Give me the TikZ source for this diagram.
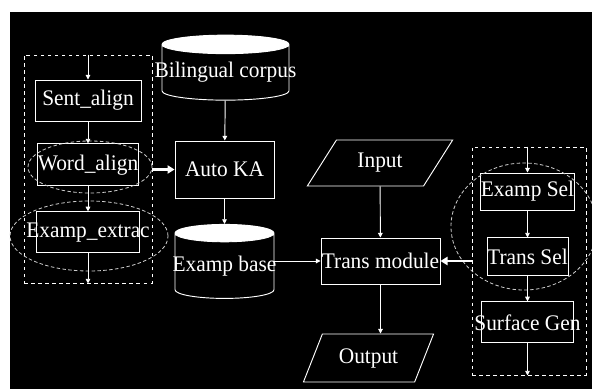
\documentclass[tikz,border=0pt]{standalone}
\usepackage{fontspec}
\setmainfont[FakeStretch=0.96]{Liberation Serif}
\usepackage{tikz}
\usetikzlibrary{arrows.meta,positioning,shapes.geometric}

\begin{document}
\begin{tikzpicture}[
  x=0.03cm, y=-0.03cm,
  >=Stealth,
  every node/.style={font=\fontsize{19}{21}\selectfont, text=white},
  box/.style={rectangle, draw=white, line width=0.8pt, inner sep=0pt,
    minimum width=3.06cm, minimum height=1.23cm},
  selbox/.style={box, minimum width=2.43cm, minimum height=1.14cm},
  dbase/.style={cylinder, shape border rotate=90, draw=white, line width=0.8pt,
    cylinder uses custom fill, cylinder body fill=black, cylinder end fill=white,
    inner sep=0pt},
  io/.style={trapezium, draw=white, line width=0.8pt, trapezium stretches=true,
    inner sep=0pt},
  grp/.style={rectangle, draw=white, line width=0.8pt, dashed},
  ring/.style={ellipse, draw=white!80!black, line width=0.7pt,
    dash pattern=on 3pt off 2pt},
  arr/.style={-{Triangle[length=4pt,width=4pt]}, white, line width=0.8pt},
  fatarr/.style={-{Triangle[length=6pt,width=7pt]}, white, line width=2pt},
]

% background
\useasboundingbox (0,0) rectangle (592,389);
\fill[black] (10,12) rectangle (592,389);

% Left group (alignment)
\node[grp, minimum width=3.84cm, minimum height=6.84cm] (leftgrp) at (88,169) {};
\node[box, minimum width=3.18cm] (sentalign) at (88,100.5) {Sent\_align};
\node[box, minimum width=3.03cm, minimum height=1.26cm, below=0.66cm of sentalign] (wordalign) {Word\_align};
\node[box, inner xsep=-9pt, below=0.75cm of wordalign] (examextrac) {Examp\_extrac};
\node[ring, minimum width=3.72cm, minimum height=1.56cm] (wordring) at (90,167) {};
\node[ring, minimum width=4.74cm, minimum height=2.1cm] (extracring) at (89,236) {};

% Middle column
\node[dbase, aspect=0.15, minimum width=3.81cm, minimum height=1.95cm] (corpus) at (225.5,72.5) {\makebox[3.7cm]{Bilingual corpus}};
\node[box, minimum width=2.97cm, minimum height=1.71cm] (autoka) at (224.5,169.5) {Auto KA};
\node[dbase, aspect=0.18, minimum width=2.97cm, minimum height=2.22cm] (expbase) at (224.5,266) {\makebox[2.9cm]{Examp base}};

% Translation
\node[io, trapezium left angle=52, trapezium right angle=128,
  minimum width=4.38cm, minimum height=1.38cm] (input) at (380,163) {Input};
\node[box, minimum width=3.57cm, minimum height=1.38cm] (transmod) at (380.5,261) {Trans module};
\node[io, trapezium left angle=58, trapezium right angle=122,
  minimum width=3.93cm, minimum height=1.44cm] (output) at (368.5,358) {Output};

% Right group (selection / generation)
\node[grp, minimum width=3.42cm, minimum height=6.84cm] (rightgrp) at (529,261) {};
\node[selbox, minimum height=1.11cm] (examsel) at (527.5,191.5) {Examp Sel};
\node[selbox, below=0.81cm of examsel] (transsel) {Trans Sel};
\node[selbox, minimum height=1.23cm, inner xsep=-6pt, below=0.75cm of transsel] (surfgen) {Surface Gen};
\node[ring, minimum width=4.38cm, minimum height=3.81cm] (selring) at (524,226.5) {};

% Arrows
\draw[arr] (sentalign.north |- leftgrp.north) -- (sentalign);
\draw[arr] (sentalign) -- (wordalign);
\draw[arr] (wordalign) -- (examextrac);
\draw[arr] (examextrac) -- (examextrac |- leftgrp.south);
\draw[fatarr] (autoka.west -| wordring.east) -- (autoka.west);
\draw[arr] (corpus) -- (autoka);
\draw[arr] (autoka) -- (expbase);
\draw[arr] (transmod.west -| expbase.east) -- (transmod.west);
\draw[arr] (input) -- (transmod);
\draw[arr] (transmod.south) -- (transmod.south |- output.north);
\draw[arr] (examsel.north |- rightgrp.north) -- (examsel);
\draw[arr] (examsel) -- (transsel);
\draw[arr] (transsel) -- (surfgen);
\draw[arr] (surfgen) -- (surfgen |- rightgrp.south);
\draw[fatarr] (rightgrp.west |- transmod) -- (transmod.east);

\end{tikzpicture}
\end{document}
